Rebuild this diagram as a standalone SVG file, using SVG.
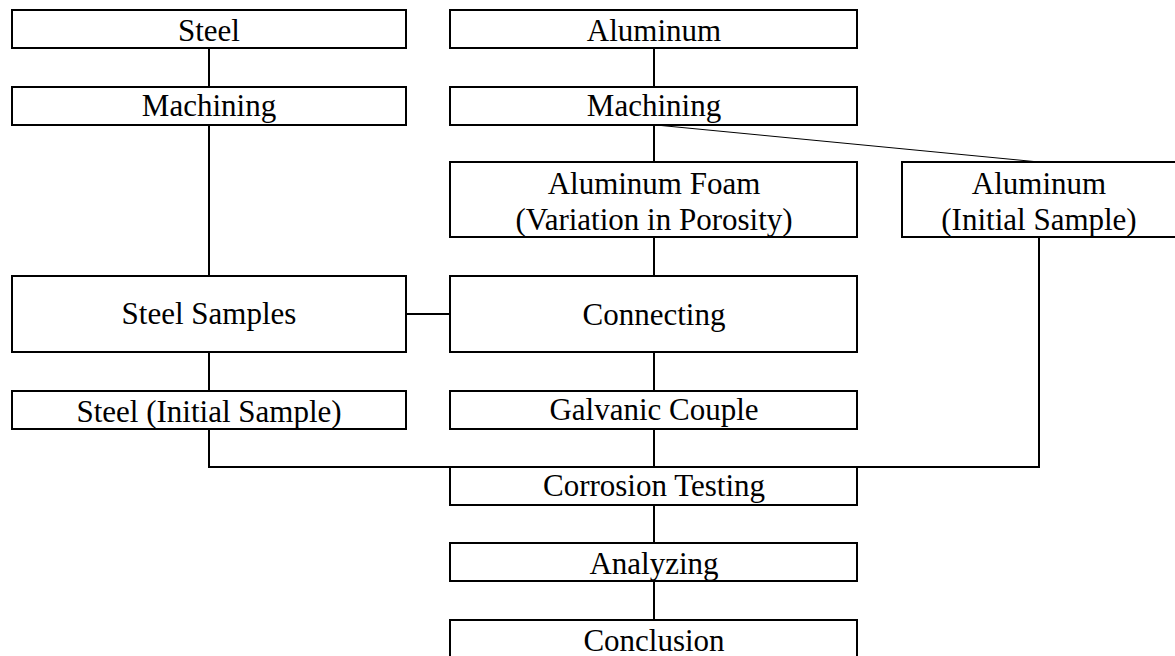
<svg xmlns="http://www.w3.org/2000/svg" width="1175" height="656" viewBox="0 0 1175 656">
<style>
rect{fill:#fff;stroke:#000;stroke-width:2}
text{font-family:"Liberation Serif","Times New Roman",serif;font-size:31px;fill:#000;text-anchor:middle}
.c{stroke:#000;stroke-width:2;fill:none}
.d{stroke:#000;stroke-width:1;fill:none}
</style>
<rect width="1175" height="656" style="fill:#fff;stroke:none"/>
<g id="connectors">
<line class="c" x1="209" y1="48" x2="209" y2="87"/>
<line class="c" x1="209" y1="125" x2="209" y2="276"/>
<line class="c" x1="209" y1="352" x2="209" y2="391"/>
<polyline class="c" points="209,429 209,467 1039,467 1039,237"/>
<line class="c" x1="654" y1="48" x2="654" y2="87"/>
<line class="c" x1="654" y1="125" x2="654" y2="162"/>
<line class="d" x1="656" y1="125" x2="1039" y2="162"/>
<line class="c" x1="654" y1="237" x2="654" y2="276"/>
<line class="c" x1="406" y1="314" x2="450" y2="314"/>
<line class="c" x1="654" y1="352" x2="654" y2="391"/>
<line class="c" x1="654" y1="429" x2="654" y2="467"/>
<line class="c" x1="654" y1="505" x2="654" y2="543"/>
<line class="c" x1="654" y1="581" x2="654" y2="620"/>
</g>
<g id="steel"><rect x="12" y="10" width="394" height="38"/><text x="209" y="41">Steel</text></g>
<g id="steel-machining"><rect x="12" y="87" width="394" height="38"/><text x="209" y="116">Machining</text></g>
<g id="steel-samples"><rect x="12" y="276" width="394" height="76"/><text x="209" y="324">Steel Samples</text></g>
<g id="steel-initial"><rect x="12" y="391" width="394" height="38"/><text x="209" y="422">Steel (Initial Sample)</text></g>
<g id="aluminum"><rect x="450" y="10" width="407" height="38"/><text x="654" y="41">Aluminum</text></g>
<g id="al-machining"><rect x="450" y="87" width="407" height="38"/><text x="654" y="116">Machining</text></g>
<g id="al-foam"><rect x="450" y="162" width="407" height="75"/><text x="654" y="194">Aluminum Foam</text><text x="654" y="230">(Variation in Porosity)</text></g>
<g id="al-initial"><rect x="902" y="162" width="274" height="75"/><text x="1039" y="194">Aluminum</text><text x="1039" y="230">(Initial Sample)</text></g>
<g id="connecting"><rect x="450" y="276" width="407" height="76"/><text x="654" y="325">Connecting</text></g>
<g id="galvanic"><rect x="450" y="391" width="407" height="38"/><text x="654" y="420">Galvanic Couple</text></g>
<g id="corrosion"><rect x="450" y="467" width="407" height="38"/><text x="654" y="496">Corrosion Testing</text></g>
<g id="analyzing"><rect x="450" y="543" width="407" height="38"/><text x="654" y="574">Analyzing</text></g>
<g id="conclusion"><rect x="450" y="620" width="407" height="38"/><text x="654" y="651">Conclusion</text></g>
</svg>
